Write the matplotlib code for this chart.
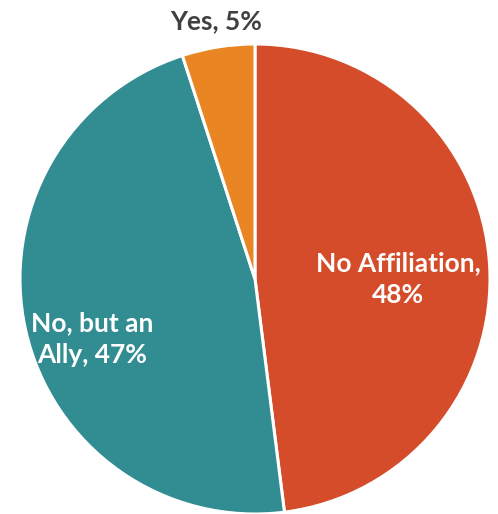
import matplotlib
matplotlib.use("Agg")
import matplotlib.pyplot as plt

labels = ["No Affiliation,\n48%", "No, but an\nAlly, 47%", "Yes, 5%"]
values = [48, 47, 5]
colors = ["#D44C2A", "#318D92", "#EA8524"]

W, H = 498, 514
fig = plt.figure(figsize=(W / 100, H / 100), dpi=100)
ax = fig.add_axes([0, 0, 1, 1])

cx, cy, r = 255, H - 279, 235
wedges, _ = ax.pie(values, colors=colors, startangle=90, counterclock=False,
                   center=(cx, cy), radius=r, frame=True,
                   wedgeprops=dict(edgecolor="white", linewidth=2.2))
ax.set_xlim(0, W)
ax.set_ylim(0, H)
ax.set_aspect("equal")
ax.axis("off")

font = "Lato"
fs = 19
ax.text(398, H - 279, labels[0], ha="center", va="center", color="white",
        fontsize=fs, fontweight="bold", family=font, linespacing=1.42)
ax.text(92, H - 339, labels[1], ha="center", va="center", color="white",
        fontsize=fs, fontweight="bold", family=font, linespacing=1.38)
ax.text(216, H - 21, labels[2], ha="center", va="center", color="#404040",
        fontsize=fs, fontweight="bold", family=font)

fig.savefig("out.png", dpi=100)
